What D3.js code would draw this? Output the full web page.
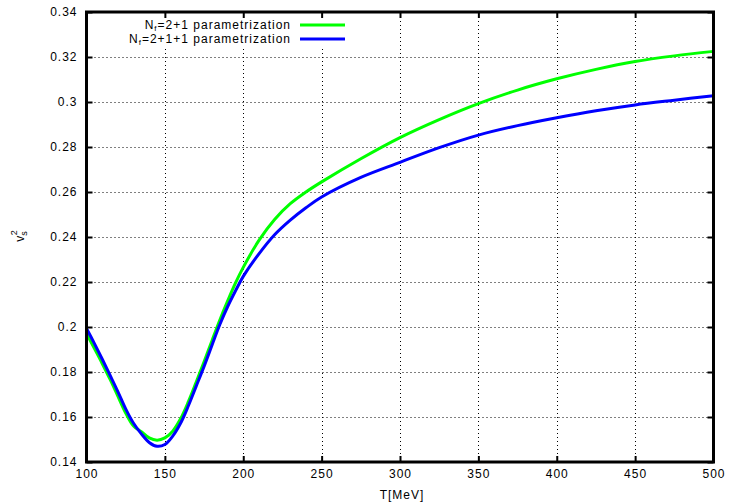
<!DOCTYPE html>
<html>
<head>
<meta charset="utf-8">
<script src="https://cdn.jsdelivr.net/npm/d3@7"></script>
<style>
  html, body { margin: 0; padding: 0; background: #fff; }
  svg { display: block; font-family: "Liberation Sans", Arial, sans-serif; }
</style>
</head>
<body>
<div id="chart"></div>
<script>
const temps = [100, 105, 110, 115, 120, 125, 130, 135, 140, 145, 150, 155, 160, 165, 170, 175, 180, 185, 190, 195, 200, 210, 220, 230, 240, 250, 275, 300, 325, 350, 375, 400, 425, 450, 475, 500];
const cs2Nf21 = [0.1972, 0.1905, 0.1838, 0.1768, 0.1693, 0.1618, 0.1560, 0.1535, 0.1507, 0.1497, 0.1507, 0.1537, 0.1592, 0.1668, 0.1755, 0.1845, 0.1938, 0.2030, 0.2115, 0.2195, 0.2265, 0.2385, 0.2478, 0.2548, 0.2600, 0.2645, 0.2748, 0.2842, 0.2922, 0.2993, 0.3053, 0.3103, 0.3145, 0.3180, 0.3205, 0.3225];
const cs2Nf211 = [0.1994, 0.1927, 0.1858, 0.1786, 0.1713, 0.1636, 0.1572, 0.1525, 0.1487, 0.1470, 0.1478, 0.1515, 0.1572, 0.1650, 0.1737, 0.1825, 0.1918, 0.2010, 0.2090, 0.2160, 0.2225, 0.2325, 0.2410, 0.2475, 0.2530, 0.2578, 0.2665, 0.2732, 0.2797, 0.2853, 0.2895, 0.2930, 0.2961, 0.2987, 0.3008, 0.3028];
const xTicks = [100, 150, 200, 250, 300, 350, 400, 450, 500];
const yTicks = [0.14, 0.16, 0.18, 0.2, 0.22, 0.24, 0.26, 0.28, 0.3, 0.32, 0.34];
const seriesNames = ["2+1 parametrization", "2+1+1 parametrization"];
const seriesColors = ["#00ff00", "#0000ff"];

const width = 729, height = 502;
const plotLeft = 86.5, plotRight = 713.5, plotTop = 12, plotBottom = 462;
const fontSize = 12;
const letterSp = "1px";

const svg = d3.select("#chart").append("svg")
    .attr("width", width)
    .attr("height", height);

const x = d3.scaleLinear().domain([100, 500]).range([plotLeft, plotRight]);
const y = d3.scaleLinear().domain([0.14, 0.34]).range([plotBottom, plotTop]);

// dotted grid
const grid = svg.append("g")
    .attr("stroke", "#000")
    .attr("stroke-width", 1)
    .attr("stroke-dasharray", "1,3");
grid.selectAll("line.gx")
    .data(xTicks.slice(1, -1))
    .join("line")
    .attr("x1", (d) => Math.round(x(d)) + 0.5)
    .attr("x2", (d) => Math.round(x(d)) + 0.5)
    .attr("y1", plotBottom)
    .attr("y2", plotTop);
grid.selectAll("line.gy")
    .data(yTicks.slice(1, -1))
    .join("line")
    .attr("y1", (d) => Math.round(y(d)) + 0.5)
    .attr("y2", (d) => Math.round(y(d)) + 0.5)
    .attr("x1", plotLeft)
    .attr("x2", plotRight);

// legend box hides the grid behind the key
svg.append("rect")
    .attr("x", 125)
    .attr("y", plotTop + 1)
    .attr("width", 225)
    .attr("height", 34)
    .attr("fill", "#fff");

// curves
const line = d3.line()
    .x((d) => x(d[0]))
    .y((d) => y(d[1]))
    .curve(d3.curveCatmullRom.alpha(0.5));

[cs2Nf21, cs2Nf211].forEach((vals, i) => {
    svg.append("path")
        .datum(temps.map((t, j) => [t, vals[j]]))
        .attr("d", line)
        .attr("fill", "none")
        .attr("stroke", seriesColors[i])
        .attr("stroke-width", 3)
        .attr("stroke-linejoin", "round");
});

// axes, ticks pointing inward on all four sides
const xAxisB = d3.axisBottom(x).tickValues(xTicks).tickSizeInner(-6).tickSizeOuter(0).tickPadding(7).tickFormat(d3.format("d"));
const xAxisT = d3.axisTop(x).tickValues(xTicks).tickSizeInner(-6).tickSizeOuter(0).tickFormat("");
const yAxisL = d3.axisLeft(y).tickValues(yTicks).tickSizeInner(-6).tickSizeOuter(0).tickPadding(9).tickFormat((d) => String(+d.toFixed(2)));
const yAxisR = d3.axisRight(y).tickValues(yTicks).tickSizeInner(-6).tickSizeOuter(0).tickFormat("");

function styleAxis(g) {
    g.select(".domain").remove();
    g.selectAll(".tick line").attr("stroke", "#000").attr("stroke-width", 2);
    g.selectAll(".tick text").attr("fill", "#000")
        .style("font-size", fontSize + "px")
        .style("letter-spacing", letterSp)
        .style("font-family", "'Liberation Sans', Arial, sans-serif");
}
svg.append("g").attr("transform", `translate(0,${plotBottom})`).call(xAxisB).call(styleAxis);
svg.append("g").attr("transform", `translate(0,${plotTop})`).call(xAxisT).call(styleAxis);
svg.append("g").attr("transform", `translate(${plotLeft},0)`).call(yAxisL).call(styleAxis);
svg.append("g").attr("transform", `translate(${plotRight},0)`).call(yAxisR).call(styleAxis);

// frame
svg.append("rect")
    .attr("x", plotLeft)
    .attr("y", plotTop)
    .attr("width", plotRight - plotLeft)
    .attr("height", plotBottom - plotTop)
    .attr("fill", "none")
    .attr("stroke", "#000")
    .attr("stroke-width", 3);

// legend
const legend = svg.append("g");
seriesNames.forEach((name, i) => {
    const ly = 25 + i * 14;
    const t = legend.append("text")
        .attr("x", 291)
        .attr("y", ly + 4)
        .attr("text-anchor", "end")
        .style("font-size", fontSize + "px")
        .style("letter-spacing", letterSp);
    t.append("tspan").text("N");
    t.append("tspan").attr("dy", 2).style("font-size", "8px").text("f");
    t.append("tspan").attr("dy", -2).text("=" + name);
    legend.append("line")
        .attr("x1", 300)
        .attr("x2", 345)
        .attr("y1", ly)
        .attr("y2", ly)
        .attr("stroke", seriesColors[i])
        .attr("stroke-width", 3);
});

// axis titles
svg.append("text")
    .attr("x", (plotLeft + plotRight) / 2 + 2)
    .attr("y", 499)
    .attr("text-anchor", "middle")
    .style("font-size", fontSize + "px")
    .style("letter-spacing", letterSp)
    .text("T[MeV]");

const yl = svg.append("text")
    .attr("transform", "translate(24,236) rotate(-90)")
    .attr("text-anchor", "middle")
    .style("font-size", fontSize + "px");
yl.append("tspan").text("v");
yl.append("tspan").attr("dy", 3).style("font-size", "9px").text("s");
yl.append("tspan").attr("dx", -4).attr("dy", -10).style("font-size", "9px").text("2");
</script>
</body>
</html>
